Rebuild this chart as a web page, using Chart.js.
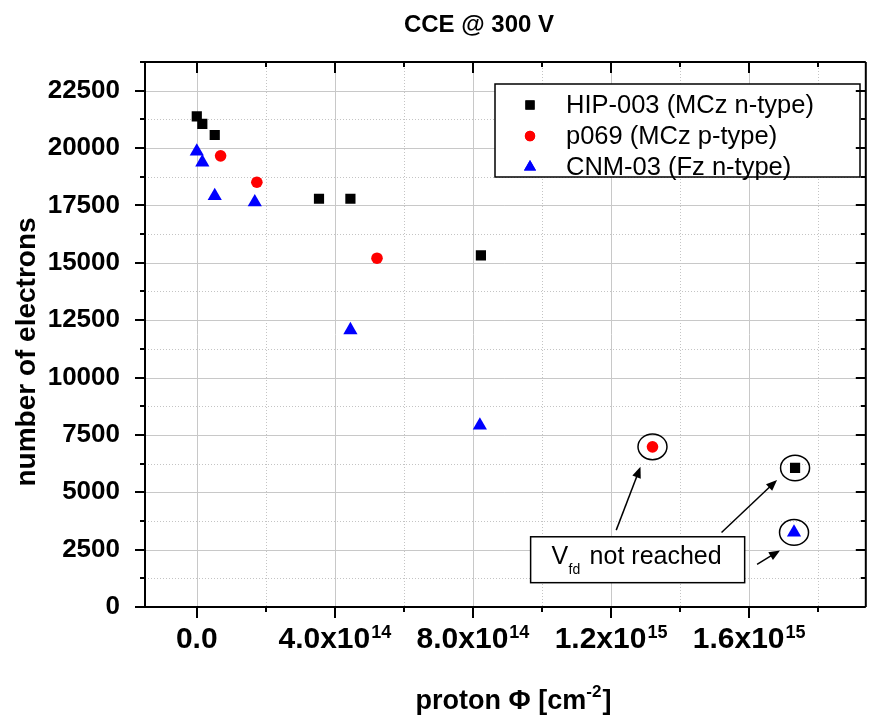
<!DOCTYPE html>
<html>
<head>
<meta charset="utf-8">
<script src="https://cdn.jsdelivr.net/npm/chart.js@4.4.0/dist/chart.umd.min.js"></script>
<style>
  html, body { margin: 0; padding: 0; background: #fff; overflow: hidden; }
  canvas { display: block; }
</style>
</head>
<body>
<canvas id="cceChart" width="873" height="721"></canvas>
<script>
// values
const hipFluence = [0, 1.6e13, 5.2e13, 3.54e14, 4.45e14, 8.23e14, 1.733e15];
const hipElectrons = [21380, 21050, 20570, 17790, 17790, 15320, 6060];
const pFluence = [6.9e13, 1.74e14, 5.22e14, 1.32e15];
const pElectrons = [19660, 18510, 15200, 6980];
const cnmFluence = [0, 1.6e13, 5.2e13, 1.68e14, 4.45e14, 8.2e14, 1.73e15];
const cnmElectrons = [19850, 19380, 17910, 17640, 12070, 7910, 3250];

const seriesLabels = ['HIP-003 (MCz n-type)', 'p069 (MCz p-type)', 'CNM-03 (Fz n-type)'];
const yTickValues = [0, 2500, 5000, 7500, 10000, 12500, 15000, 17500, 20000, 22500];
const xTickValues = [0, 4e14, 8e14, 1.2e15, 1.6e15];
const xTickMantissa = ['0.0', '4.0x10', '8.0x10', '1.2x10', '1.6x10'];
const xTickExponent = ['', '14', '14', '15', '15'];

// points where V_fd was not reached: [dataset, point]
const notReached = [[1, 3], [0, 6], [2, 6]];

const FONT = "'Liberation Sans', Arial, sans-serif";

function toPoints(xs, ys) {
  return xs.map((x, i) => ({ x: x, y: ys[i] }));
}

function arrow(ctx, x1, y1, x2, y2) {
  const a = Math.atan2(y2 - y1, x2 - x1);
  const len = 11, hw = 4.5;
  ctx.beginPath();
  ctx.moveTo(x1, y1);
  ctx.lineTo(x2 - Math.cos(a) * len * 0.8, y2 - Math.sin(a) * len * 0.8);
  ctx.stroke();
  ctx.beginPath();
  ctx.moveTo(x2, y2);
  ctx.lineTo(x2 - Math.cos(a) * len - Math.sin(a) * hw, y2 - Math.sin(a) * len + Math.cos(a) * hw);
  ctx.lineTo(x2 - Math.cos(a) * len + Math.sin(a) * hw, y2 - Math.sin(a) * len - Math.cos(a) * hw);
  ctx.closePath();
  ctx.fill();
}

const chartDecor = {
  id: 'chartDecor',
  beforeDatasetsDraw(chart) {
    const { ctx, chartArea: a, scales: { x, y } } = chart;
    ctx.save();
    ctx.lineWidth = 1;
    // minor grid, dotted
    ctx.strokeStyle = '#c4c4c4';
    ctx.setLineDash([1, 2]);
    for (let v = 2e14; v < x.max; v += 4e14) {
      const px = Math.round(x.getPixelForValue(v)) + 0.5;
      ctx.beginPath(); ctx.moveTo(px, a.top); ctx.lineTo(px, a.bottom); ctx.stroke();
    }
    for (let v = 1250; v < y.max; v += 2500) {
      const py = Math.round(y.getPixelForValue(v)) + 0.5;
      ctx.beginPath(); ctx.moveTo(a.left, py); ctx.lineTo(a.right, py); ctx.stroke();
    }
    // major grid, solid
    ctx.setLineDash([]);
    ctx.strokeStyle = '#c8c8c8';
    for (let v = 0; v < x.max; v += 4e14) {
      const px = Math.round(x.getPixelForValue(v)) + 0.5;
      ctx.beginPath(); ctx.moveTo(px, a.top); ctx.lineTo(px, a.bottom); ctx.stroke();
    }
    for (let v = 2500; v < y.max; v += 2500) {
      const py = Math.round(y.getPixelForValue(v)) + 0.5;
      ctx.beginPath(); ctx.moveTo(a.left, py); ctx.lineTo(a.right, py); ctx.stroke();
    }
    ctx.restore();
  },
  afterDatasetsDraw(chart) {
    const { ctx, chartArea: a, scales: { x, y } } = chart;
    ctx.save();

    // legend
    ctx.fillStyle = '#fff';
    ctx.fillRect(495, 84, 365, 93);
    ctx.strokeStyle = '#000';
    ctx.lineWidth = 1.5;
    ctx.strokeRect(495, 84, 365, 93);
    ctx.font = '25.5px ' + FONT;
    ctx.textAlign = 'left';
    ctx.textBaseline = 'middle';
    chart.data.datasets.forEach((ds, i) => {
      const cy = 105 + i * 31;
      ctx.fillStyle = ds.backgroundColor;
      Chart.helpers.drawPoint(ctx, { pointStyle: ds.pointStyle, radius: ds.legendRadius, rotation: 0, borderWidth: 0 }, 530, cy);
      ctx.fill();
      ctx.fillStyle = '#000';
      ctx.fillText(seriesLabels[i], 566, cy + 1);
    });

    // "V_fd not reached" annotation
    ctx.strokeStyle = '#000';
    ctx.fillStyle = '#000';
    ctx.lineWidth = 1.5;
    const tips = [[-12, 20], [-18, 12], [-14, 18]];
    const tails = [[1.215e15, 3350], [1.52e15, 3250], [1.623e15, 1860]];
    notReached.forEach(([d, p], k) => {
      const pt = chart.data.datasets[d].data[p];
      const cx = x.getPixelForValue(pt.x), cy = y.getPixelForValue(pt.y);
      ctx.beginPath();
      ctx.ellipse(cx, cy, 14.5, 12.8, 0, 0, Math.PI * 2);
      ctx.stroke();
      arrow(ctx, x.getPixelForValue(tails[k][0]), y.getPixelForValue(tails[k][1]), cx + tips[k][0], cy + tips[k][1]);
    });
    const bx1 = x.getPixelForValue(9.67e14), bx2 = x.getPixelForValue(1.587e15);
    const by1 = y.getPixelForValue(3060), by2 = y.getPixelForValue(1060);
    ctx.fillStyle = '#fff';
    ctx.fillRect(bx1, by1, bx2 - bx1, by2 - by1);
    ctx.strokeRect(bx1, by1, bx2 - bx1, by2 - by1);
    ctx.fillStyle = '#000';
    ctx.textBaseline = 'alphabetic';
    ctx.font = '25px ' + FONT;
    ctx.fillText('V', bx1 + 21, by1 + 27);
    ctx.font = '14px ' + FONT;
    ctx.fillText('fd', bx1 + 38, by1 + 37);
    ctx.font = '25px ' + FONT;
    ctx.fillText('not reached', bx1 + 59, by1 + 27);

    // frame and ticks
    ctx.strokeStyle = '#000';
    ctx.lineWidth = 2;
    ctx.beginPath();
    ctx.moveTo(a.left, a.top); ctx.lineTo(a.right + 1, a.top);
    ctx.moveTo(a.left, a.bottom); ctx.lineTo(a.right + 1, a.bottom);
    ctx.moveTo(a.left, a.top - 1); ctx.lineTo(a.left, a.bottom + 1);
    ctx.moveTo(a.right + 1, a.top); ctx.lineTo(a.right + 1, a.bottom);
    for (let v = 0, k = 0; v < x.max; v += 2e14, k++) {
      const px = Math.round(x.getPixelForValue(v));
      const len = k % 2 === 0 ? 11 : 5;
      ctx.moveTo(px, a.bottom); ctx.lineTo(px, a.bottom + len);
      ctx.moveTo(px, a.top); ctx.lineTo(px, a.top + len);
    }
    for (let v = 0, k = 0; v <= y.max; v += 1250, k++) {
      const py = Math.round(y.getPixelForValue(v));
      const len = k % 2 === 0 ? 10 : 5;
      ctx.moveTo(a.left, py); ctx.lineTo(a.left - len, py);
      ctx.moveTo(a.right, py); ctx.lineTo(a.right - len + 1, py);
    }
    ctx.stroke();

    // x tick labels with exponents
    ctx.fillStyle = '#000';
    ctx.textBaseline = 'alphabetic';
    ctx.textAlign = 'left';
    xTickValues.forEach((v, i) => {
      const px = x.getPixelForValue(v);
      ctx.font = 'bold 30px ' + FONT;
      const w1 = ctx.measureText(xTickMantissa[i]).width;
      ctx.font = 'bold 18px ' + FONT;
      const w2 = xTickExponent[i] ? ctx.measureText(xTickExponent[i]).width + 1 : 0;
      const start = px - (w1 + w2) / 2;
      ctx.font = 'bold 30px ' + FONT;
      ctx.fillText(xTickMantissa[i], start, 648);
      if (w2) {
        ctx.font = 'bold 18px ' + FONT;
        ctx.fillText(xTickExponent[i], start + w1 + 1, 638);
      }
    });

    // titles
    ctx.textAlign = 'center';
    ctx.font = 'bold 24px ' + FONT;
    ctx.fillText('CCE @ 300 V', 479, 32);

    ctx.textAlign = 'left';
    ctx.font = 'bold 27px ' + FONT;
    const t1 = 'proton \u03A6 [cm';
    const w1 = ctx.measureText(t1).width;
    ctx.font = 'bold 17px ' + FONT;
    const w2 = ctx.measureText('-2').width;
    ctx.font = 'bold 27px ' + FONT;
    const w3 = ctx.measureText(']').width;
    const sx = 513 - (w1 + w2 + w3) / 2;
    ctx.fillText(t1, sx, 709);
    ctx.font = 'bold 17px ' + FONT;
    ctx.fillText('-2', sx + w1, 697);
    ctx.font = 'bold 27px ' + FONT;
    ctx.fillText(']', sx + w1 + w2 + 1, 709);

    ctx.translate(35, 352);
    ctx.rotate(-Math.PI / 2);
    ctx.textAlign = 'center';
    ctx.font = 'bold 28px ' + FONT;
    ctx.fillText('number of electrons', 0, 0);

    ctx.restore();
  }
};

const ctx = document.getElementById('cceChart').getContext('2d');
new Chart(ctx, {
  type: 'scatter',
  data: {
    datasets: [
      {
        label: seriesLabels[0],
        data: toPoints(hipFluence, hipElectrons),
        pointStyle: 'rect',
        pointRadius: 7.2,
        legendRadius: 6.5,
        backgroundColor: '#000000',
        borderWidth: 0,
      },
      {
        label: seriesLabels[1],
        data: toPoints(pFluence, pElectrons),
        pointStyle: 'circle',
        pointRadius: 5.8,
        legendRadius: 5.2,
        backgroundColor: '#ff0000',
        borderWidth: 0,
      },
      {
        label: seriesLabels[2],
        data: toPoints(cnmFluence, cnmElectrons),
        pointStyle: 'triangle',
        pointRadius: 8.2,
        legendRadius: 7,
        backgroundColor: '#0000ff',
        borderWidth: 0,
      },
    ],
  },
  options: {
    responsive: false,
    animation: false,
    layout: { padding: { top: 62, right: 0, left: 0, bottom: 0 } },
    plugins: {
      legend: { display: false },
      title: { display: false },
      tooltip: { enabled: false },
    },
    scales: {
      x: {
        type: 'linear',
        min: -1.5e14,
        max: 1.935e15,
        grid: { display: false },
        border: { display: false },
        ticks: { display: false },
        afterFit: (scale) => { scale.height = 114; },
      },
      y: {
        type: 'linear',
        min: 0,
        max: 23750,
        grid: { display: false },
        border: { display: false },
        afterBuildTicks: (scale) => {
          scale.ticks = yTickValues.map((v) => ({ value: v }));
        },
        ticks: {
          color: '#000',
          padding: 17,
          font: { family: FONT, size: 26, weight: 'bold' },
          callback: (v) => String(v),
        },
        afterFit: (scale) => { scale.width = 145; },
      },
    },
  },
  plugins: [chartDecor],
});
</script>
</body>
</html>
